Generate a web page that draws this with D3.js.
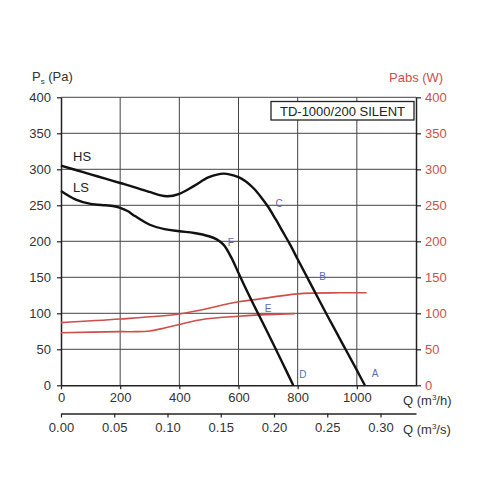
<!DOCTYPE html>
<html><head><meta charset="utf-8">
<script src="https://cdn.jsdelivr.net/npm/d3@7"></script>
<style>
body{margin:0;background:#fff;}
text{font-family:"Liberation Sans",Arial,sans-serif;}
</style></head>
<body><svg id="c" width="500" height="500"></svg>
<script>
// Data (Q in m3/h, pressure in Pa, power in W)
const hsQ = [0, 50, 100, 150, 200, 250, 300, 330, 360, 400, 450, 500, 550, 600, 625, 650, 675, 700, 725, 750, 775, 800, 850, 900, 950, 1000, 1027];
const hsP = [305, 299, 293, 287, 281, 275, 268.5, 264.5, 262.5, 266, 277, 289, 294, 289, 283, 274, 262, 248, 231, 213, 195, 175, 136, 97, 59, 21, 0];
const lsQ = [0, 50, 100, 150, 175, 200, 225, 250, 300, 350, 400, 450, 500, 525, 550, 575, 600, 625, 650, 700, 750, 785];
const lsP = [270, 258, 252, 250, 249, 246.5, 242, 235, 223, 217, 214, 211.5, 207, 203, 195, 178, 156, 134, 113, 72, 30, 0];
const hsPowQ = [0, 200, 400, 464, 600, 656, 800, 943, 1033];
const hsPow = [87, 92, 99, 104, 116, 119, 127, 128.5, 128.5];
const lsPowQ = [0, 200, 250, 300, 350, 400, 487, 600, 656, 790];
const lsPow = [73, 74.5, 74.5, 75.5, 79.5, 84.5, 92, 96, 97.5, 99.5];
const pointNames = ["A", "B", "C", "D", "E", "F"];
const pointQ = [1027, 832, 698, 785, 658, 540];
const pointP = [0, 150, 250, 0, 100, 200];
const qTicks = [0, 200, 400, 600, 800, 1000];
const q2Ticks = [0, 0.05, 0.10, 0.15, 0.20, 0.25, 0.30];
const pTicks = [0, 50, 100, 150, 200, 250, 300, 350, 400];

const svg = d3.select("#c");
const x = d3.scaleLinear().domain([0, 1200]).range([61, 416]);
const x2 = d3.scaleLinear().domain([0, 1200/3600]).range([61, 416]);
const y = d3.scaleLinear().domain([0, 400]).range([385.3, 97.3]);
const red = "#cc4f4a";
const txt = "#333";

// grid
svg.append("g").selectAll("line").data(qTicks.filter(d => d > 0)).join("line")
  .attr("x1", d => x(d)).attr("x2", d => x(d)).attr("y1", y(400)).attr("y2", y(0))
  .attr("stroke", "#444").attr("stroke-width", 1);
svg.append("g").selectAll("line").data(pTicks.filter(d => d > 0)).join("line")
  .attr("x1", x(0)).attr("x2", x(1200)).attr("y1", d => y(d)).attr("y2", d => y(d))
  .attr("stroke", "#444").attr("stroke-width", 1);

function styleAxis(g, color) {
  g.select(".domain").attr("stroke", "#222").attr("stroke-width", 1.5);
  g.selectAll(".tick line").attr("stroke", "#222").attr("stroke-width", 1.2);
  g.selectAll(".tick text").attr("fill", color).attr("font-size", 13)
    .attr("font-family", "'Liberation Sans', Arial, sans-serif");
}

// left axis
const gl = svg.append("g").attr("transform", `translate(${x(0)},0)`)
  .call(d3.axisLeft(y).tickValues(pTicks).tickSize(4).tickPadding(6).tickSizeOuter(0));
styleAxis(gl, txt);
// right axis
const gr = svg.append("g").attr("transform", `translate(${x(1200)},0)`)
  .call(d3.axisRight(y).tickValues(pTicks).tickSize(5).tickPadding(4).tickSizeOuter(0));
styleAxis(gr, red);
// bottom axis
const gb = svg.append("g").attr("transform", `translate(0,${y(0)})`)
  .call(d3.axisBottom(x).tickValues(qTicks).tickFormat(d3.format("d")).tickSize(4).tickPadding(3).tickSizeOuter(0));
styleAxis(gb, txt);
// second bottom axis
const gb2 = svg.append("g").attr("transform", `translate(0,413.5)`)
  .call(d3.axisBottom(x2).tickValues(q2Ticks).tickFormat(d3.format(".2f")).tickSize(4).tickPadding(5).tickSizeOuter(0));
styleAxis(gb2, txt);

// curves
const line = d3.line().x(d => x(d[0])).y(d => y(d[1])).curve(d3.curveCatmullRom.alpha(0.5));
function draw(qs, vs, color, w) {
  svg.append("path").datum(qs.map((q, i) => [q, vs[i]])).attr("d", line)
    .attr("fill", "none").attr("stroke", color).attr("stroke-width", w);
}
draw(hsPowQ, hsPow, red, 1.6);
draw(lsPowQ, lsPow, red, 1.6);
draw(hsQ, hsP, "#111", 2.4);
draw(lsQ, lsP, "#111", 2.4);

// point labels
const offs = {A:[7,-11], B:[12,0], C:[8,-1], D:[6,-10], E:[9,-4], F:[7,2]};
svg.append("g").selectAll("text").data(pointNames).join("text")
  .attr("x", (d, i) => x(pointQ[i]) + offs[d][0])
  .attr("y", (d, i) => y(pointP[i]) + offs[d][1])
  .attr("dominant-baseline", "middle")
  .attr("font-size", 10).attr("fill", "#5a6db3").text(d => d);

// curve names
svg.append("text").attr("x", 73).attr("y", 161).attr("font-size", 13).attr("fill", "#222").text("HS");
svg.append("text").attr("x", 73).attr("y", 192).attr("font-size", 13).attr("fill", "#222").text("LS");

// axis titles
const t1 = svg.append("text").attr("x", 32).attr("y", 81).attr("font-size", 13).attr("fill", txt);
t1.append("tspan").text("P");
t1.append("tspan").attr("font-size", 8).attr("dy", 3).text("s");
t1.append("tspan").attr("dy", -3).text(" (Pa)");
svg.append("text").attr("x", 389).attr("y", 82).attr("font-size", 13).attr("fill", red).text("Pabs (W)");
const t3 = svg.append("text").attr("x", 403).attr("y", 405).attr("font-size", 13).attr("fill", txt);
t3.append("tspan").text("Q (m");
t3.append("tspan").attr("font-size", 8).attr("dy", -5).text("3");
t3.append("tspan").attr("dy", 5).text("/h)");
const t4 = svg.append("text").attr("x", 403).attr("y", 434).attr("font-size", 13).attr("fill", txt);
t4.append("tspan").text("Q (m");
t4.append("tspan").attr("font-size", 8).attr("dy", -5).text("3");
t4.append("tspan").attr("dy", 5).text("/s)");

// model box
svg.append("rect").attr("x", 271).attr("y", 101.5).attr("width", 143).attr("height", 18.5)
  .attr("fill", "#fff").attr("stroke", "#222").attr("stroke-width", 1.3);
svg.append("text").attr("x", 342.5).attr("y", 115.5).attr("text-anchor", "middle")
  .attr("font-size", 13).attr("fill", "#222").text("TD-1000/200 SILENT");
</script></body></html>
